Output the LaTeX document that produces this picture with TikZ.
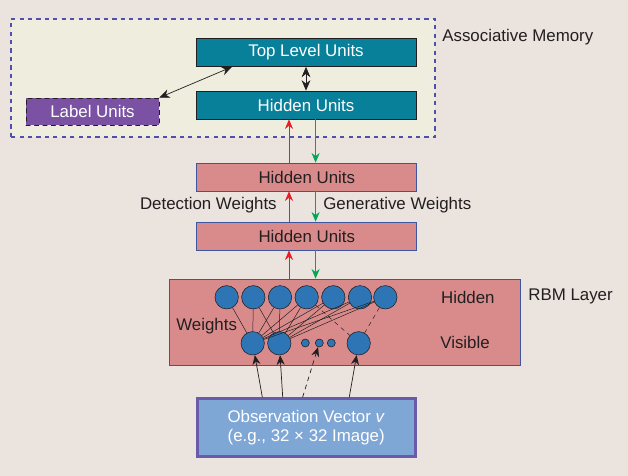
\documentclass[tikz,border=0pt]{standalone}
\usepackage{fontspec}
\setmainfont{Liberation Sans}
\usetikzlibrary{arrows.meta}
\definecolor{paper}{RGB}{234, 227, 222}
\definecolor{cream}{RGB}{238, 237, 222}
\definecolor{memline}{RGB}{80, 80, 170}
\definecolor{teal}{RGB}{8, 128, 153}
\definecolor{purple}{RGB}{123, 82, 163}
\definecolor{rose}{RGB}{217, 139, 139}
\definecolor{roseline}{RGB}{64, 85, 160}
\definecolor{neuron}{RGB}{46, 117, 182}
\definecolor{obsfill}{RGB}{127, 167, 214}
\definecolor{obsline}{RGB}{106, 90, 170}
\definecolor{upred}{RGB}{237, 28, 36}
\definecolor{downgreen}{RGB}{0, 166, 81}
\definecolor{ink}{RGB}{35, 31, 32}

\begin{document}
\begin{tikzpicture}[line width=0.5pt, line cap=round,
    font=\fontsize{12}{14}\selectfont, text=ink,
    unitbox/.style={minimum width=5.5cm, minimum height=0.7cm, inner sep=0pt},
    topunit/.style={unitbox, fill=teal, draw=ink, text=white},
    roseunit/.style={unitbox, fill=rose, draw=roseline},
    tag/.style={inner sep=0pt},
    neuronnode/.style={circle, fill=neuron, draw=ink, line width=0.4pt, minimum size=0.585cm, inner sep=0pt},
    dotnode/.style={circle, fill=neuron, draw=ink, line width=0.4pt, minimum size=0.2cm, inner sep=0pt},
    tip/.style={-{Stealth[length=2.4mm, width=2mm]}},
    both/.style={{Stealth[length=2.6mm, width=2.2mm]}-{Stealth[length=2.6mm, width=2.2mm]}, ink},
    upflow/.style={tip, upred},
    downflow/.style={tip, downgreen},
    weight/.style={ink, line width=0.35pt}]

    \fill[paper] (0, 0) rectangle (15.7, 11.9);
    \useasboundingbox (0, 0) rectangle (15.7, 11.9);

    % associative memory
    \draw[memline, fill=cream, dashed, line width=0.9pt, line cap=butt]
        (0.275, 8.475) rectangle (10.875, 11.425);
    \node[tag, anchor=west] (memtext) at (11.05, 10.975) {Associative Memory};

    \node[topunit] (toplevel) at (7.65, 10.5875) {Top Level Units};
    \node[topunit] (memhidden) at (7.65, 9.275) {Hidden Units};
    \node[fill=purple, draw=ink, dashed, text=white, minimum width=3.325cm,
        minimum height=0.675cm, inner sep=0pt] (label) at (2.3125, 9.1125) {Label Units};

    \coordinate (labtip) at (5.8, 0);
    \draw[both] (label.north east) -- (toplevel.south -| labtip);
    \draw[both] (toplevel) -- (memhidden);

    % stacked hidden layers
    \node[roseunit] (hidA) at (7.67, 7.475) {Hidden Units};
    \node[roseunit] (hidB) at (7.67, 6.0) {Hidden Units};

    \coordinate (redx) at (7.225, 0);
    \coordinate (greenx) at (7.89, 0);

    \draw[upflow] (hidA.north -| redx) -- (memhidden.south -| redx);
    \draw[downflow] (memhidden.south -| greenx) -- (hidA.north -| greenx);
    \draw[upflow] (hidB.north -| redx) -- (hidA.south -| redx);
    \draw[downflow] (hidA.south -| greenx) -- (hidB.north -| greenx);

    \node[tag, anchor=east] (dettext) at (6.925, 6.775) {Detection Weights};
    \node[tag, anchor=west] (gentext) at (8.075, 6.775) {Generative Weights};

    % RBM layer
    \node[fill=rose, draw=roseline, minimum width=8.775cm, minimum height=2.15cm,
        inner sep=0pt] (rbm) at (8.6125, 3.85) {};
    \node[tag, anchor=west] (rbmtext) at (13.2, 4.5) {RBM Layer};

    \draw[upflow] (rbm.north -| redx) -- (hidB.south -| redx);
    \draw[downflow] (hidB.south -| greenx) -- (rbm.north -| greenx);

    \node[tag, anchor=west] (hidtext) at (11.02, 4.4575) {Hidden};
    \node[tag, anchor=west] (vistext) at (11.0, 3.3325) {Visible};
    \node[tag, anchor=west] (wtext) at (4.4, 3.75) {Weights};

    \node[neuronnode] (h1) at (5.667, 4.4675) {};
    \node[neuronnode] (h2) at (6.333, 4.4675) {};
    \node[neuronnode] (h3) at (7.0, 4.4675) {};
    \node[neuronnode] (h4) at (7.667, 4.4675) {};
    \node[neuronnode] (h5) at (8.333, 4.4675) {};
    \node[neuronnode] (h6) at (9.0, 4.4675) {};
    \node[neuronnode] (h7) at (9.633, 4.4675) {};

    \node[neuronnode] (v1) at (6.3175, 3.3175) {};
    \node[neuronnode] (v2) at (6.9825, 3.3175) {};
    \node[dotnode] (d1) at (7.6325, 3.325) {};
    \node[dotnode] (d2) at (7.9825, 3.325) {};
    \node[dotnode] (d3) at (8.2825, 3.325) {};
    \node[neuronnode] (v3) at (8.9675, 3.3175) {};

    \draw[weight] (h1) -- (v1);
    \draw[weight] (h2) -- (v1);
    \draw[weight] (h3) -- (v1);
    \draw[weight] (h4) -- (v1);
    \draw[weight] (h5) -- (v1);
    \draw[weight] (h6) -- (v1);
    \draw[weight] (h7) -- (v1);
    \draw[weight] (h2) -- (v2);
    \draw[weight] (h3) -- (v2);
    \draw[weight] (h4) -- (v2);
    \draw[weight] (h5) -- (v2);
    \draw[weight] (h6) -- (v2);
    \draw[weight] (h7) -- (v2);
    \draw[weight, dashed] (h4) -- (v3);
    \draw[weight, dashed] (h7) -- (v3);

    % observation vector
    \node[fill=obsfill, draw=obsline, line width=2pt, text=white, align=center,
        minimum width=5.45cm, minimum height=1.45cm, inner sep=0pt] (obs) at (7.655, 1.2125)
        {Observation Vector \textit{v}\\(e.g., 32 × 32 Image)};

    \coordinate (o1) at (6.5575, 1.975);
    \coordinate (o2) at (7.0675, 1.975);
    \coordinate (o3) at (7.5675, 1.975);
    \coordinate (o4) at (8.7325, 1.975);

    \draw[tip, ink] (o1) -- (v1);
    \draw[tip, ink] (o2) -- (v2);
    \draw[tip, ink, dashed] (o3) -- (d2);
    \draw[tip, ink] (o4) -- (v3);

\end{tikzpicture}
\end{document}
